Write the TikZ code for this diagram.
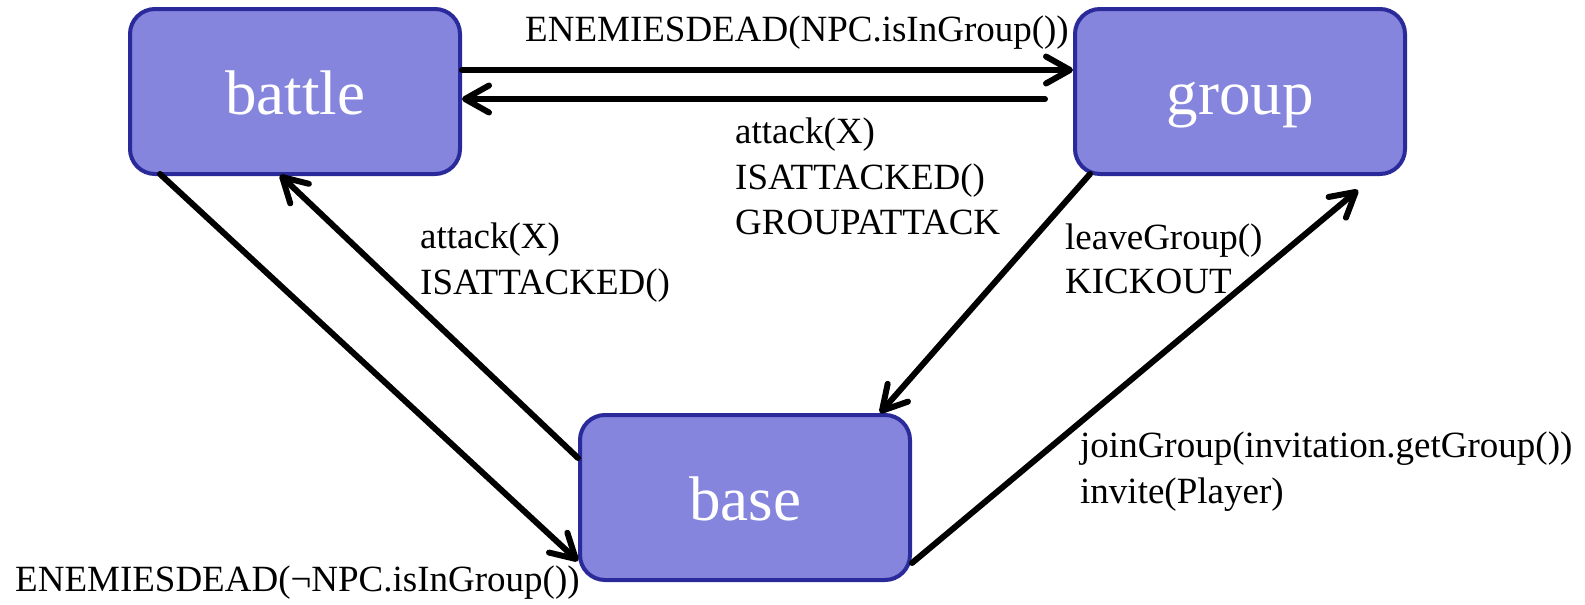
\documentclass[tikz,border=0pt]{standalone}
\usepackage{fontspec}
\setmainfont{Liberation Serif}
\usetikzlibrary{arrows.meta}
\definecolor{boxfill}{HTML}{8585DE}
\definecolor{boxline}{HTML}{2A2A9A}
\tikzset{
  state/.style={rectangle, rounded corners=25pt, fill=boxfill, draw=boxline,
    line width=4pt, minimum width=330pt, minimum height=165pt, inner sep=0pt,
    text height=45pt, text depth=0pt,
    text=white, font=\fontsize{63}{70}\selectfont},
  lbl/.style={anchor=base west, inner sep=0pt, font=\fontsize{37}{44}\selectfont},
  conn/.style={line width=6pt, line cap=round, line join=round,
    -{Straight Barb[length=24pt, width=27pt, line cap=round, line join=round]}}
}
\begin{document}
\begin{tikzpicture}[x=1pt,y=-1pt]
\useasboundingbox (0,0) rectangle (1585,605);
\node[state] (battle) at (295,91.5) {battle};
\node[state] (group) at (1240,91.5) {group};
\node[state] (base) at (745,497.5) {base};

% top arrows
\draw[conn] ([yshift=21.5pt]battle.east) -- ([yshift=21.5pt]group.west);
\draw[conn] ([xshift=-28pt,yshift=-7.5pt]group.west) -- ([yshift=-7.5pt]battle.east);
% battle -> base
\draw[conn] ([xshift=32pt,yshift=2pt]battle.south west) -- ([yshift=-63.5pt]base.west);
% base -> battle
\draw[conn] ([yshift=39.5pt]base.west) -- ([xshift=-15pt,yshift=1pt]battle.south);
% group -> base
\draw[conn] ([xshift=17pt,yshift=2pt]group.south west) -- ([xshift=135pt]base.north);
% base -> group
\coordinate (gtip) at (1358,190);
\draw[conn] ([yshift=-65.5pt]base.east) -- (gtip);

% labels
\node[lbl] (t1) at (525,41) {ENEMIESDEAD(NPC.isInGroup())};
\node[lbl] (t2a) at (735,143) {attack(X)};
\node[lbl] (t2b) at (735,189) {ISATTACKED()};
\node[lbl] (t2c) at (735,234) {GROUPATTACK};
\node[lbl] (t3a) at (420,248) {attack(X)};
\node[lbl] (t3b) at (420,294) {ISATTACKED()};
\node[lbl] (t4a) at (1065,249) {leaveGroup()};
\node[lbl] (t4b) at (1065,293) {KICKOUT};
\node[lbl] (t5a) at (1080,457) {joinGroup(invitation.getGroup())};
\node[lbl] (t5b) at (1080,503) {invite(Player)};
\node[lbl] (t6) at (15,591) {ENEMIESDEAD(¬NPC.isInGroup())};
\end{tikzpicture}
\end{document}
